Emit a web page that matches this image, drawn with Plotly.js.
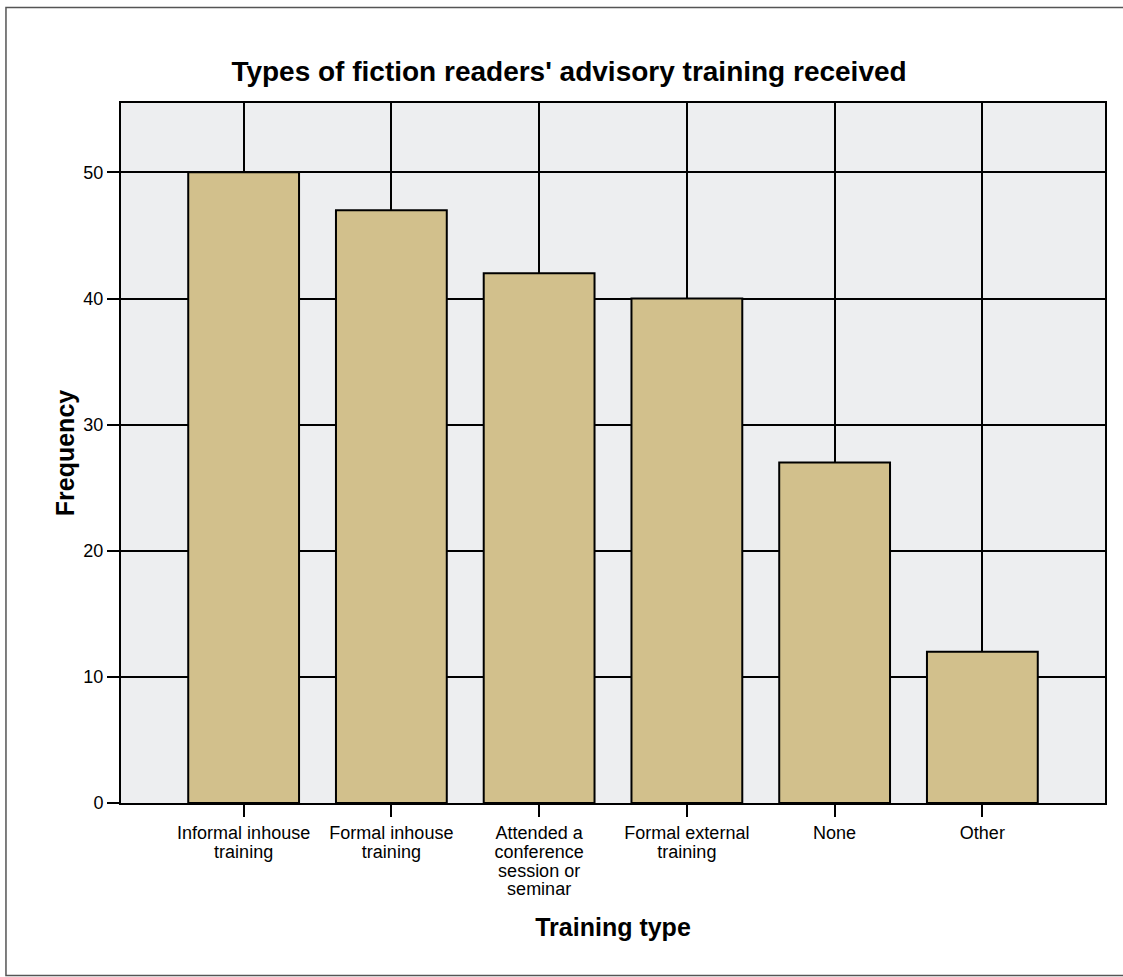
<!DOCTYPE html>
<html><head><meta charset="utf-8">
<script src="https://cdn.plot.ly/plotly-3.0.1.min.js"></script>
<style>html,body{margin:0;padding:0;background:#fff}</style>
</head><body><div id="chart" style="width:1123px;height:977px"></div>
<script>
const categories = ["Informal inhouse<br>training", "Formal inhouse<br>training", "Attended a<br>conference<br>session or<br>seminar", "Formal external<br>training", "None", "Other"];
const frequencies = [50, 47, 42, 40, 27, 12];
const yTickValues = [0, 10, 20, 30, 40, 50];
const chartTitle = "Types of fiction readers' advisory training received";
const xTitle = "Training type";
const yTitle = "Frequency";

const FONT = '"Liberation Sans", Arial, sans-serif';

const trace = {
  type: 'bar',
  x: categories,
  y: frequencies,
  marker: { color: '#D2C08C', line: { color: '#000', width: 2 } },
  hoverinfo: 'x+y'
};

const layout = {
  width: 1123, height: 977,
  margin: { l: 121, r: 18, t: 103, b: 174 },
  paper_bgcolor: '#fff',
  plot_bgcolor: '#EDEEF0',
  bargap: 0.25,
  showlegend: false,
  font: { family: FONT, color: '#000' },
  title: {
    text: chartTitle,
    font: { family: FONT, size: 28, weight: 'bold', color: '#000' },
    xref: 'container', x: 0.5067, xanchor: 'center',
    yref: 'container', y: 0.927, yanchor: 'middle'
  },
  xaxis: {
    type: 'category',
    range: [-0.83, 5.83],
    showgrid: true, gridcolor: '#000', gridwidth: 2,
    showline: true, linecolor: '#000', linewidth: 2, mirror: true,
    ticks: 'outside', ticklen: 12, tickwidth: 2, tickcolor: '#000',
    tickfont: { family: FONT, size: 18, color: '#000' },
    title: { text: xTitle, font: { family: FONT, size: 25, weight: 'bold', color: '#000' }, standoff: 7 },
    fixedrange: true
  },
  yaxis: {
    range: [0, 55.5],
    tickvals: yTickValues,
    showgrid: true, gridcolor: '#000', gridwidth: 2,
    zeroline: false,
    showline: true, linecolor: '#000', linewidth: 2, mirror: true,
    ticks: 'outside', ticklen: 12, tickwidth: 2, tickcolor: '#000',
    tickfont: { family: FONT, size: 18, color: '#000' },
    title: { text: yTitle, font: { family: FONT, size: 25, weight: 'bold', color: '#000' }, standoff: 2 },
    fixedrange: true
  },
  shapes: [{
    type: 'rect', xref: 'paper', yref: 'paper',
    x0: -0.1169, x1: 1.0203, y0: -0.2465, y1: 1.1366,
    line: { color: '#555', width: 1.5 }, fillcolor: 'rgba(0,0,0,0)', layer: 'below'
  }]
};

Plotly.newPlot('chart', [trace], layout, { displayModeBar: false, staticPlot: true }).then(function (gd) {
  // tighten the line spacing of the multi-line category labels (SPSS style)
  const k = 0.81;
  gd.querySelectorAll('.xtick text tspan.line').forEach(function (ts) {
    const dy = ts.getAttribute('dy');
    if (!dy) return;
    const m = dy.match(/^(-?[\d.]+)(em|px)?$/);
    if (!m) return;
    const v = parseFloat(m[1]) * k;
    ts.setAttribute('dy', v + (m[2] || ''));
  });
});
</script>
</body></html>
